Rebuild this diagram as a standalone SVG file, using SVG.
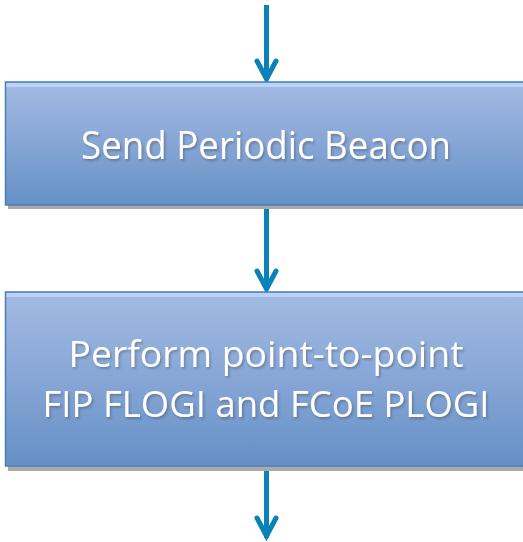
<svg xmlns="http://www.w3.org/2000/svg" width="523" height="542" viewBox="0 0 523 542">
<defs>
<linearGradient id="boxfill" x1="0" y1="0" x2="0" y2="1">
<stop offset="0" stop-color="#a3bbe3"/>
<stop offset="0.5" stop-color="#87a6d6"/>
<stop offset="1" stop-color="#6590c5"/>
</linearGradient>
<filter id="tshadow" x="-10%" y="-30%" width="120%" height="160%">
<feDropShadow dx="1.5" dy="2" stdDeviation="1.2" flood-color="#333" flood-opacity="0.35"/>
</filter>
<style>
.shadow{fill:#a9a9a9}
.box{fill:url(#boxfill);stroke:#4a7ebb;stroke-width:1.5}
.hl{fill:#bcd2f5}
.lbl{font-family:"Open Sans","Noto Sans","Liberation Sans",sans-serif;fill:#ffffff;text-anchor:middle;filter:url(#tshadow)}
.conn{stroke:#0a82b8;stroke-width:5;fill:none}
.head{stroke:#0a82b8;stroke-width:5;fill:none;stroke-linecap:round;stroke-linejoin:miter}
</style>
</defs>
<g id="connectors">
<line class="conn" x1="266.5" y1="5" x2="266.5" y2="80"/>
<path class="head" d="M257 61 L266.5 79 L276 61"/>
<line class="conn" x1="266.5" y1="205" x2="266.5" y2="290"/>
<path class="head" d="M257 271 L266.5 289 L276 271"/>
<line class="conn" x1="266.5" y1="466" x2="266.5" y2="538"/>
<path class="head" d="M257 518 L266.5 536 L276 518"/>
</g>
<g id="node-beacon">
<rect class="shadow" x="8" y="85" width="520" height="124"/>
<rect class="box" x="5.5" y="82" width="520" height="123"/>
<rect class="hl" x="6.5" y="83" width="518" height="4"/>
<text class="lbl" x="266" y="159" font-size="38" textLength="370" lengthAdjust="spacingAndGlyphs">Send Periodic Beacon</text>
</g>
<g id="node-flogi">
<rect class="shadow" x="8" y="295" width="520" height="176"/>
<rect class="box" x="5.5" y="292" width="520" height="174"/>
<rect class="hl" x="6.5" y="293" width="518" height="4"/>
<text class="lbl" x="266" y="367" font-size="36" textLength="395" lengthAdjust="spacingAndGlyphs">Perform point-to-point</text>
<text class="lbl" x="266" y="417" font-size="36" textLength="447" lengthAdjust="spacingAndGlyphs">FIP FLOGI and FCoE PLOGI</text>
</g>
</svg>
